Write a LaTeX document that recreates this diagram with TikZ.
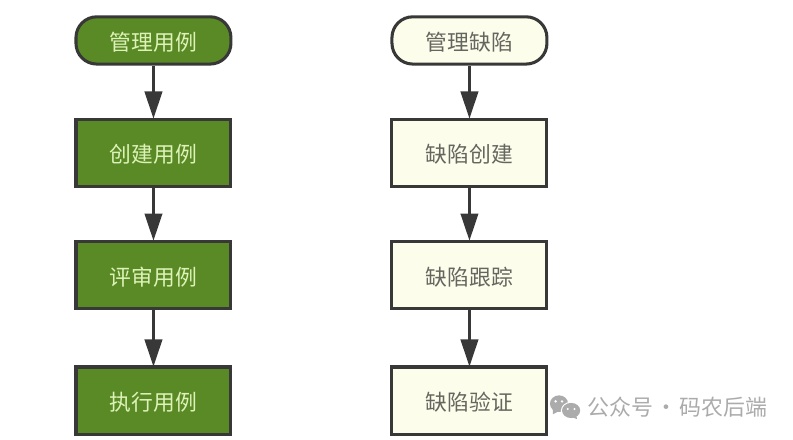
\documentclass[tikz,border=0pt]{standalone}
\usepackage{fontspec}
\usepackage{xcolor}
\usetikzlibrary{arrows.meta}
\setmainfont{Noto Sans CJK SC}
\definecolor{leaf}{HTML}{5A8A25}
\definecolor{leaftext}{HTML}{DDF2B8}
\definecolor{cream}{HTML}{FDFDEB}
\definecolor{creamtext}{HTML}{666660}
\definecolor{edge}{HTML}{383838}
\definecolor{wmgray}{HTML}{ABABAB}
\tikzset{
    stepbox/.style={draw=edge,line width=2.3pt,minimum width=4.1cm,minimum height=1.78cm,
	inner sep=0pt,text height=17.5pt,text depth=2pt,font=\fontsize{16.4}{16.4}\selectfont},
    startbox/.style={stepbox,rounded corners=0.55cm,minimum height=1.25cm},
    greenbox/.style={fill=leaf,text=leaftext},
    palebox/.style={fill=cream,text=creamtext},
    flow/.style={draw=edge,line width=2.2pt,-{Triangle[length=0.72cm,width=0.46cm]},shorten >=-0.03cm},
}
\begin{document}
\begin{tikzpicture}
    \useasboundingbox (0, 0) rectangle (20.98, -11.615);

    \path (4.06, -1.07) node [startbox,greenbox] (gl) {管理用例};
    \path (4.06, -4.04) node [stepbox,greenbox] (cj) {创建用例};
    \draw [flow] (gl) -- (cj);
    \path (4.06, -7.27) node [stepbox,greenbox] (ps) {评审用例};
    \draw [flow] (cj) -- (ps);
    \path (4.06, -10.6) node [stepbox,greenbox] (zx) {执行用例};
    \draw [flow] (ps) -- (zx);

    \path (12.42, -1.07) node [startbox,palebox] (gl1) {管理缺陷};
    \path (12.42, -4.04) node [stepbox,palebox] (cj1) {缺陷创建};
    \draw [flow] (gl1) -- (cj1);
    \path (12.42, -7.27) node [stepbox,palebox] (gz1) {缺陷跟踪};
    \draw [flow] (cj1) -- (gz1);
    \path (12.42, -10.6) node [stepbox,palebox] (yz1) {缺陷验证};
    \draw [flow] (gz1) -- (yz1);

    % watermark
    \fill [wmgray] (14.79, -10.68) ellipse (0.24 and 0.22);
    \fill [wmgray] (14.63, -10.82) -- (14.63, -10.96) -- (14.78, -10.88) -- cycle;
    \fill [white] (15.11, -10.86) ellipse (0.27 and 0.23);
    \fill [wmgray] (15.11, -10.86) ellipse (0.24 and 0.2);
    \fill [wmgray] (15.24, -10.98) -- (15.27, -11.09) -- (15.12, -11.03) -- cycle;
    \fill [white] (14.7, -10.62) circle (0.035) (14.87, -10.62) circle (0.035);
    \fill [white] (15.02, -10.82) circle (0.03) (15.2, -10.82) circle (0.03);
    \path (15.53, -10.77) node [anchor=west,inner sep=0pt,text=wmgray,
	font=\fontsize{16.5}{16.5}\selectfont] (wm) {\spaceskip=1.9pt\relax 公众号 · 码农后端};
\end{tikzpicture}
\end{document}
